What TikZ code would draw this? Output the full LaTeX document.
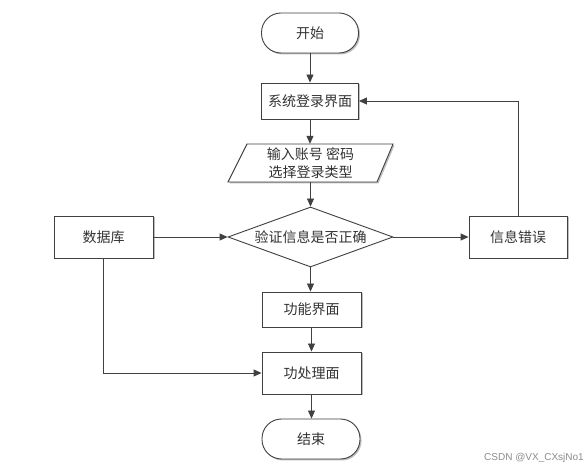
\documentclass[tikz,border=0pt]{standalone}
\usepackage{fontspec}
\setmainfont{Liberation Sans}
\newfontfamily\cjk{Noto Sans CJK SC}
\usetikzlibrary{arrows.meta,shapes.geometric,shadows}
\definecolor{linec}{HTML}{404040}
\definecolor{textc}{HTML}{333333}
\begin{document}
\begin{tikzpicture}[x=1pt,y=-1pt,
  every node/.style={font=\cjk\fontsize{14}{16}\selectfont, text=textc},
  shad/.style={drop shadow={shadow xshift=1.5pt,shadow yshift=-1.5pt,fill=black,opacity=0.25}},
  procbox/.style={draw=linec, line width=0.9pt, fill=white, shad, inner sep=0pt},
  term/.style={procbox, rounded corners=19.5pt, minimum width=97pt, minimum height=40pt},
  decis/.style={draw=linec, line width=0.9pt, fill=white, diamond, aspect=2.75, inner sep=0pt, minimum width=165pt, minimum height=60pt},
  conn/.style={draw=linec, line width=0.9pt, -{Triangle[length=8pt,width=7pt]}},
  plainline/.style={draw=linec, line width=0.9pt}
]
\useasboundingbox[fill=white] (0,0) rectangle (587,470);

\node[term] (start) at (310,33) {开始};
\node[procbox, minimum width=97pt, minimum height=36pt] (login) at (310,101) {系统登录界面};
% parallelogram
\fill[black,opacity=0.25] (248.5,145.5) -- (394.5,145.5) -- (378.5,183.5) -- (229.5,183.5) -- cycle;
\filldraw[draw=linec, line width=0.9pt, fill=white] (247,144) -- (393,144) -- (377,182) -- (228,182) -- cycle;
\node[minimum width=146pt, minimum height=38pt, inner sep=0pt, align=center, font=\cjk\fontsize{14}{18}\selectfont] (input) at (310.5,163) {输入账号 密码\\选择登录类型};
\node[decis] (check) at (310.5,237) {验证信息是否正确};
\node[procbox, minimum width=99pt, minimum height=42pt] (db) at (103.5,237) {数据库};
\node[procbox, minimum width=98pt, minimum height=42pt] (err) at (518,237) {信息错误};
\node[procbox, minimum width=99pt, minimum height=35pt] (func) at (311.5,309.5) {功能界面};
\node[procbox, minimum width=99pt, minimum height=42pt] (proc) at (311.5,373) {功处理面};
\node[term, minimum width=98pt] (end) at (311,439) {结束};

\node[font=\fontsize{10}{12}\selectfont, text=black!45] (wm) at (534,458) {CSDN @VX\_CXsjNo1};

\draw[conn] (start.south) -- (login.north);
\draw[conn] (login.south) -- (login.south |- input.north);
\draw[conn] (input.south) -- (check.north);
\draw[conn] (check.south) -- (check.south |- func.north);
\draw[conn] (func.south) -- (proc.north);
\draw[conn] (proc.south) -- (proc.south |- end.north);
\draw[conn] (db.east) -- (check.west);
\draw[conn] (check.east) -- (err.west);
\draw[conn] (err.north) |- (login.east);
\draw[conn] (db.south) |- (proc.west);
\end{tikzpicture}
\end{document}
